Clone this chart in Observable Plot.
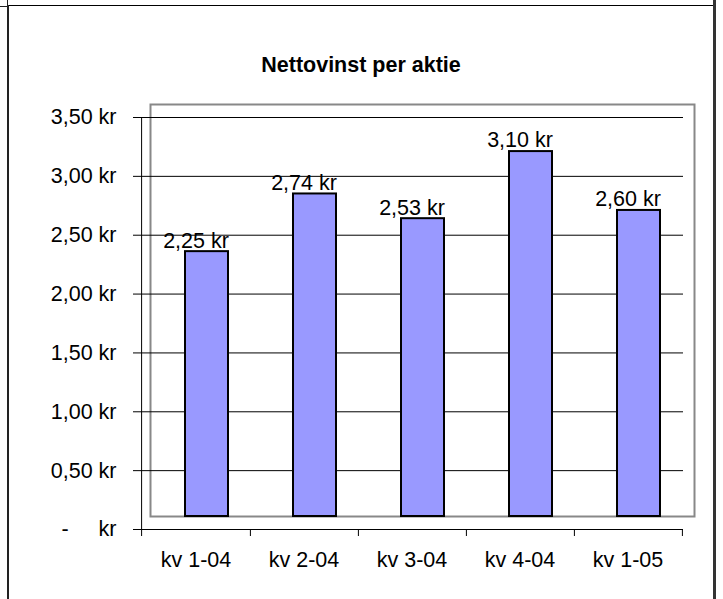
<!DOCTYPE html>
<html>
<head>
<meta charset="utf-8">
<script src="https://cdn.jsdelivr.net/npm/d3@7"></script>
<script src="https://cdn.jsdelivr.net/npm/@observablehq/plot@0.6"></script>
<style>
  html, body { margin: 0; padding: 0; background: #fff; }
  #wrap { position: relative; width: 723px; height: 599px; overflow: hidden; font-family: "Liberation Sans", Arial, sans-serif; }
  #chart { position: absolute; left: 0; top: 0; }
  .ln { position: absolute; background: #222; }
  #title { position: absolute; left: 8px; width: 706px; top: 52px; text-align: center; font-weight: bold; font-size: 21.5px; line-height: 26px; color: #000; }
</style>
</head>
<body>
<div id="wrap">
  <div id="chart"></div>
  <div class="ln" style="left:0;top:6px;width:8px;height:1px;"></div>
  <div class="ln" style="left:7px;top:0;width:1px;height:6px;"></div>
  <div class="ln" style="left:7px;top:5px;width:708px;height:1px;background:#000;"></div>
  <div class="ln" style="left:7px;top:5px;width:2px;height:594px;"></div>
  <div class="ln" style="left:713px;top:0;width:3px;height:599px;background:#333;"></div>
  <div id="title">Nettovinst per aktie</div>
</div>
<script>
const categories = ["kv 1-04", "kv 2-04", "kv 3-04", "kv 4-04", "kv 1-05"];
const values = [2.25, 2.74, 2.53, 3.10, 2.60];
const yTicks = [0, 0.5, 1, 1.5, 2, 2.5, 3, 3.5];

const data = categories.map((c, i) => ({category: c, value: values[i]}));

const W = 723, H = 599;
const mL = 139, mR = 40, mT = 117, mB = 70;
const step = (W - mL - mR) / categories.length;
const shiftX = 11, shiftY = -13;
const FS = 21.5;

const fmt = v => v === 0 ? "-\u2007\u2007\u00a0kr" : d3.format(".2f")(v).replace(".", ",") + " kr";

const chart = Plot.plot({
  width: W,
  height: H,
  marginLeft: mL,
  marginRight: mR,
  marginTop: mT,
  marginBottom: mB,
  style: {fontFamily: "'Liberation Sans', Arial, sans-serif", fontSize: FS + "px", color: "#000", background: "transparent"},
  x: {domain: categories, paddingInner: 0.605, paddingOuter: 0.3025, label: null},
  y: {domain: [0, 3.5], label: null},
  marks: [
    Plot.frame({stroke: "#888", strokeWidth: 2, dx: shiftX, dy: shiftY, fill: "white"}),
    Plot.ruleY(yTicks, {stroke: "#000", strokeWidth: 1, insetLeft: -6}),
    Plot.ruleX([categories[0]], {y1: 3.5, y2: 0, dx: -step / 2, insetBottom: -7, stroke: "#000"}),
    Plot.ruleX(categories, {y1: 0, y2: 0, dx: step / 2, insetBottom: -7, stroke: "#000"}),
    Plot.barY(data, {x: "category", y: "value", fill: "#9999FF", stroke: "#000", strokeWidth: 2, dx: shiftX, dy: shiftY}),
    Plot.text(data, {x: "category", y: "value", text: d => fmt(d.value), dy: -24, fill: "#000", fontSize: FS}),
    Plot.axisY(yTicks, {tickSize: 0, tickPadding: 23, tickFormat: fmt, fontSize: FS, label: null}),
    Plot.axisX({tickSize: 0, tickPadding: 22, fontSize: FS, label: null})
  ]
});
document.getElementById("chart").appendChild(chart);
</script>
</body>
</html>
